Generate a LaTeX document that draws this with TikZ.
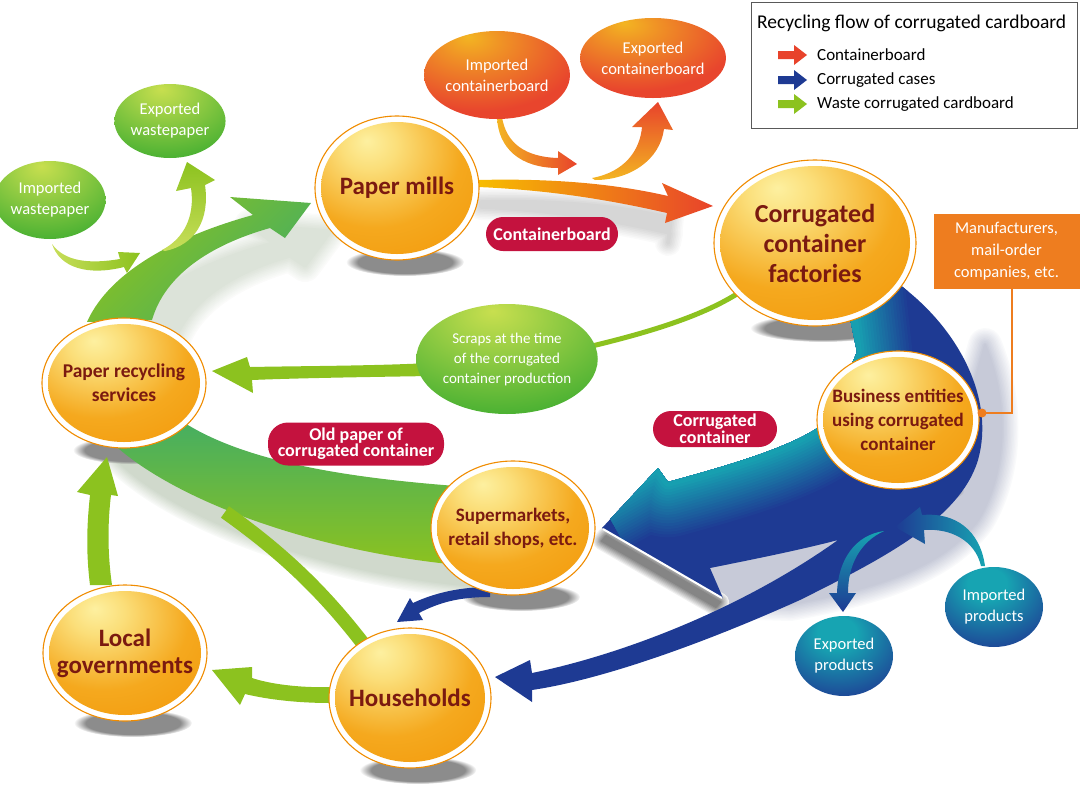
\documentclass[tikz,border=0pt]{standalone}
\usepackage{fontspec}
\setmainfont{Carlito}
\usetikzlibrary{shapes.geometric,fadings}
\definecolor{maroon}{HTML}{7B1A10}
\definecolor{ringor}{HTML}{F08C00}
\definecolor{ballhi}{HTML}{FDF0A0}
\definecolor{ballmid}{HTML}{F8C440}
\definecolor{ballmain}{HTML}{F39A0C}
\definecolor{ygreen}{HTML}{8CC21F}
\definecolor{lgreen}{HTML}{C8DE5A}
\definecolor{tgreen}{HTML}{45AE62}
\definecolor{lblred}{HTML}{C4123E}
\definecolor{boxor}{HTML}{EE7D1F}
\definecolor{arrred}{HTML}{E8432B}
\definecolor{arrorg}{HTML}{EE7A22}
\definecolor{arryel}{HTML}{F7BD00}
\definecolor{dblue}{HTML}{1E3A93}
\definecolor{tealc}{HTML}{17A4B2}
\definecolor{gHi}{HTML}{C8DF4F}
\definecolor{gMain}{HTML}{4DB233}
\definecolor{rHi}{HTML}{F3B522}
\definecolor{rMain}{HTML}{E8452D}
\definecolor{shblue}{HTML}{8C93B0}
\definecolor{shgreen}{HTML}{8FA585}
\pgfdeclareradialshading{orb}{\pgfpoint{-10bp}{18bp}}{color(0bp)=(ballhi); color(9bp)=(ballhi!60!ballmid); color(28bp)=(ballmid!35!ballmain); color(45bp)=(ballmain); color(100bp)=(ballmain)}
\pgfdeclareradialshading{gorb}{\pgfpoint{-4bp}{22bp}}{color(0bp)=(gHi); color(10bp)=(gHi!75!gMain); color(38bp)=(gMain); color(100bp)=(gMain)}
\pgfdeclareradialshading{rorb}{\pgfpoint{-10bp}{22bp}}{color(0bp)=(rHi); color(10bp)=(rHi!70!rMain); color(35bp)=(rMain); color(100bp)=(rMain)}
\pgfdeclareradialshading{borb}{\pgfpoint{-4bp}{16bp}}{color(0bp)=(tealc); color(10bp)=(tealc); color(40bp)=(dblue); color(100bp)=(dblue)}
\tikzset{
  ring/.style={ellipse, draw=ringor, line width=1.1pt, fill=white, inner sep=0pt},
  orbtext/.style={text=maroon, align=center, inner sep=0pt},
  smallorb/.style={ellipse, shade, inner sep=0pt, text=white, align=center, font=\fontsize{16.5}{21}\selectfont},
  tag/.style={fill=lblred, text=white, align=center, inner sep=0pt, font=\bfseries\fontsize{18}{18}\selectfont},
  softsh/.style={line width=#1, line join=round},
}
\newcommand{\bigorb}[5]{%
  \fill[black!45, path fading=circle with fuzzy edge 20 percent] (#2+8,#3+#5+2) ellipse [x radius=0.72*#4, y radius=14];
}
\newcommand{\bigorbtop}[7]{%
  \node[ring, minimum width=2*#4, minimum height=2*#5] (#1) at (#2,#3) {};
  \shade[shading=orb] (#2,#3) ellipse [x radius=#4-6, y radius=#5-6];
  \node[orbtext, font=\bfseries#6] (#1-t) at (#1) {#7};
}
\newcommand{\legarrow}[3]{%
  \fill[#2] (778,#3-4) -- (794,#3-4) -- (794,#3-10) -- (807,#3) -- (794,#3+10) -- (794,#3+4) -- (778,#3+4) -- cycle;
  \coordinate (#1) at (817,#3);
}
\begin{document}
\begin{tikzpicture}[x=1pt,y=-1pt]
\path[use as bounding box] (0,0) rectangle (1080,796);

% ---------- soft arrow shadows (stepped, opaque) ----------
\foreach \i in {0,...,9}{
  \pgfmathsetmacro\w{32-3.2*\i}\pgfmathtruncatemacro\c{4+3*\i}
  \filldraw[draw=shgreen!\c, fill=shgreen!\c, softsh=\w pt, shift={(20,28)}] (87,322) .. controls (110,270) and (180,235) .. (253,215) -- (230,197) -- (311,203) -- (285,238) -- (270,228) .. controls (210,245) and (165,275) .. (152,320) -- cycle;
}
\foreach \i in {0,...,7}{
  \pgfmathsetmacro\w{26-3.2*\i}\pgfmathtruncatemacro\c{2+2*\i}
  \filldraw[draw=black!\c, fill=black!\c, softsh=\w pt, shift={(3,20)}] (478,182) .. controls (560,180) and (620,187) .. (668,198) -- (665,223) -- (667,213) .. controls (610,200) and (550,190) .. (478,187) -- cycle;
}
\foreach \i in {0,...,9}{
  \pgfmathsetmacro\w{26-2.6*\i}\pgfmathtruncatemacro\c{6+4*\i}
  \filldraw[draw=shgreen!\c, fill=shgreen!\c, softsh=\w pt, shift={(8,20)}] (470,487) .. controls (340,478) and (240,460) .. (180,420) -- (100,430) .. controls (150,490) and (300,552) .. (470,566) -- cycle;
}
\foreach \i in {0,...,11}{
  \pgfmathsetmacro\w{34-2.9*\i}\pgfmathtruncatemacro\c{5+4*\i}
  \filldraw[draw=shblue!\c, fill=shblue!\c, softsh=\w pt] (985,345) .. controls (1008,400) and (1008,470) .. (978,520) .. controls (945,565) and (880,588) .. (790,604) -- (724,602) -- (710,568) -- (838,540) -- (950,470) -- cycle;
}
\foreach \i in {0,...,7}{
  \pgfmathsetmacro\w{18-2.3*\i}\pgfmathtruncatemacro\c{6+6*\i}
  \filldraw[draw=black!\c, fill=black!\c, softsh=\w pt] (606,536) -- (720,602) -- (716,607) -- (602,541) -- cycle;
}

% ---------- node shadows ----------
\bigorb{pm}{397}{188}{82}{72}
\bigorb{ccf}{815}{243}{101}{83}
\bigorb{prs}{124}{383}{82}{65}
\bigorb{sup}{513}{528}{82}{67}
\bigorb{bus}{898}{420}{81}{69}
\bigorb{lg}{125}{653}{82}{68}
\bigorb{hh}{410}{698}{81}{70}

% ---------- green flows ----------
\shade[top color=tgreen, bottom color=ygreen] (470,487) .. controls (340,478) and (240,460) .. (180,420) -- (100,430) .. controls (150,490) and (300,552) .. (470,566) -- cycle;
\draw[ygreen, line width=14pt] (368,650) .. controls (330,600) and (290,558) .. (225,512);
\shade[top color=ygreen, bottom color=tgreen, shading angle=45] (87,322) .. controls (110,270) and (180,235) .. (253,215) -- (230,197) -- (311,203) -- (285,238) -- (270,228) .. controls (210,245) and (165,275) .. (152,320) -- cycle;
\shade[left color=lgreen, right color=ygreen] (52,244) .. controls (65,262) and (90,264) .. (120,259) -- (118,252) -- (140,253) -- (127,273) -- (124,267) .. controls (88,276) and (60,268) .. (52,244) -- cycle;
\shade[bottom color=lgreen, top color=ygreen] (162,250) .. controls (185,238) and (195,215) .. (191,188) -- (176,191) -- (187,162) -- (215,180) -- (205,185) .. controls (210,220) and (195,245) .. (165,251) -- cycle;
\fill[ygreen] (90,585) .. controls (85,545) and (88,515) .. (90,495) -- (77,492) -- (107,457) -- (118,496) -- (111,495) .. controls (108,520) and (107,550) .. (112,585) -- cycle;
\fill[ygreen] (330,687) .. controls (300,688) and (270,684) .. (252,678) -- (252,667) -- (212,670) -- (240,705) -- (245,694) .. controls (270,700) and (300,703) .. (330,703) -- cycle;
\fill[ygreen] (430,363) .. controls (370,366) and (300,366) .. (250,367) -- (247,357) -- (212,371) -- (253,393) -- (252,380) .. controls (300,378) and (370,377) .. (430,376) -- cycle;
\draw[ygreen, line width=5pt] (575,350) .. controls (640,335) and (700,318) .. (740,292);

% ---------- red flows ----------
\shade[left color=arryel, middle color=arrorg, right color=arrred] (478,180) .. controls (560,178) and (620,185) .. (668,196) -- (662,183) -- (713,206) -- (665,223) -- (667,213) .. controls (610,200) and (550,190) .. (478,187) -- cycle;
\shade[left color=rHi, right color=arrred] (502,117) .. controls (506,143) and (525,157) .. (558,158) -- (558,151) -- (577,164) -- (558,175) -- (558,168) .. controls (520,168) and (498,148) .. (497,117) -- cycle;
\shade[bottom color=rHi, top color=arrred] (592,178) .. controls (625,172) and (640,150) .. (642,127) -- (632,127) -- (658,102) -- (673,130) -- (664,129) .. controls (660,160) and (630,180) .. (595,180) -- cycle;

% ---------- blue flows ----------
\begin{scope}
\clip (602,528) -- (658,468) -- (668,482) .. controls (730,465) and (800,445) .. (828,420) -- (857,352) -- (850,318) -- (900,285) .. controls (960,330) and (995,400) .. (978,460) .. controls (960,520) and (880,560) .. (800,600) .. controls (700,645) and (600,680) .. (532,690) -- (532,702) -- (495,677) -- (530,660) -- (532,673) .. controls (620,655) and (740,610) .. (838,540) .. controls (800,550) and (750,560) .. (710,568) -- (723,598) -- cycle;
\fill[dblue] (480,270) rectangle (1000,710);
\foreach \i in {0,...,19}{
  \pgfmathsetmacro\w{116-5.6*\i}\pgfmathtruncatemacro\c{5*\i}
  \draw[tealc!\c!dblue, line width=\w pt, line join=round] (600,500) -- (658,468) -- (668,482) .. controls (730,465) and (800,445) .. (828,420) -- (857,352) -- (850,290);
}
\end{scope}
\draw[white, line width=2pt] (603,529) -- (722,598);
\fill[dblue] (490,587) .. controls (455,587) and (430,595) .. (413,603) -- (410,598) -- (397,622) -- (423,620) -- (419,613) .. controls (440,602) and (460,597) .. (490,597) -- cycle;
\shade[top color=tealc, bottom color=dblue] (884,531) .. controls (855,535) and (838,560) .. (837,593) -- (829,593) -- (843,612) -- (856,593) -- (848,593) .. controls (848,565) and (860,542) .. (884,531) -- cycle;
\shade[left color=dblue, right color=tealc] (985,566) .. controls (980,530) and (955,512) .. (922,515) -- (920,507) -- (895,527) -- (925,544) -- (924,530) .. controls (950,528) and (975,540) .. (981,566) -- cycle;

% ---------- big nodes ----------
\bigorbtop{pm}{397}{188}{82}{72}{\fontsize{25}{29}\selectfont}{Paper mills}
\bigorbtop{ccf}{815}{243}{101}{83}{\fontsize{26}{30}\selectfont}{Corrugated\\container\\factories}
\bigorbtop{prs}{124}{383}{82}{65}{\fontsize{19.5}{24}\selectfont}{Paper recycling\\services}
\bigorbtop{sup}{513}{528}{82}{67}{\fontsize{19}{24}\selectfont}{Supermarkets,\\retail shops, etc.}
\bigorbtop{bus}{898}{420}{81}{69}{\fontsize{19}{24}\selectfont}{Business entities\\using corrugated\\container}
\bigorbtop{lg}{125}{653}{82}{68}{\fontsize{25}{27}\selectfont}{Local\\governments}
\bigorbtop{hh}{410}{698}{81}{70}{\fontsize{25}{29}\selectfont}{Households}

% ---------- small nodes ----------
\node[smallorb, shading=rorb, minimum width=126, minimum height=88] (impcb) at (497,75) {Imported\\containerboard};
\node[smallorb, shading=rorb, minimum width=124, minimum height=80] (expcb) at (653,58) {Exported\\containerboard};
\node[smallorb, shading=gorb, minimum width=96, minimum height=74] (expwp) at (170,121) {Exported\\wastepaper};
\node[smallorb, shading=gorb, minimum width=98, minimum height=78] (impwp) at (50,200) {Imported\\wastepaper};
\node[smallorb, shading=gorb, minimum width=156, minimum height=110, font=\fontsize{15}{20}\selectfont] (scr) at (507,359) {Scraps at the time\\of the corrugated\\container production};
\node[smallorb, shading=borb, minimum width=98, minimum height=80] (expp) at (844,656) {Exported\\products};
\node[smallorb, shading=borb, minimum width=98, minimum height=80] (impp) at (994,607) {Imported\\products};

% ---------- tags ----------
\node[tag, rounded corners=17pt, minimum width=132, minimum height=34] (tcb) at (552,234) {Containerboard};
\node[tag, rounded corners=20pt, minimum width=176, minimum height=43, font=\bfseries\fontsize{18}{16}\selectfont] (told) at (356,444) {Old paper of\\corrugated container};
\node[tag, rounded corners=18pt, minimum width=124, minimum height=36, font=\bfseries\fontsize{18}{17}\selectfont] (tcc) at (715,429) {Corrugated\\container};

% ---------- manufacturers box ----------
\node[fill=boxor, text=white, align=center, inner sep=0pt, minimum width=146, minimum height=75, font=\fontsize{16.5}{22}\selectfont] (mfr) at (1006.5,251.5) {Manufacturers,\\mail-order\\companies, etc.};
\coordinate (bizdot) at (982,413);
\draw[boxor, line width=1.5pt] ([xshift=5.5pt]mfr.south) |- (bizdot);
\fill[boxor] (bizdot) circle (4.5);

% ---------- legend ----------
\node[draw=black!65, line width=1pt, fill=white, minimum width=326, minimum height=126, inner sep=0pt] (leg) at (914,65) {};
\node[anchor=west, inner sep=0pt, font=\fontsize{19.5}{21}\selectfont] (legt) at (757,23) {Recycling flow of corrugated cardboard};
\legarrow{la}{arrred}{55}
\legarrow{lb}{dblue}{80}
\legarrow{lc}{ygreen}{104}
\node[anchor=west, inner sep=0pt, font=\fontsize{17}{18}\selectfont] (lta) at (la) {Containerboard};
\node[anchor=west, inner sep=0pt, font=\fontsize{17}{18}\selectfont] (ltb) at (lb) {Corrugated cases};
\node[anchor=west, inner sep=0pt, font=\fontsize{17}{18}\selectfont] (ltc) at (lc) {Waste corrugated cardboard};
\end{tikzpicture}
\end{document}
